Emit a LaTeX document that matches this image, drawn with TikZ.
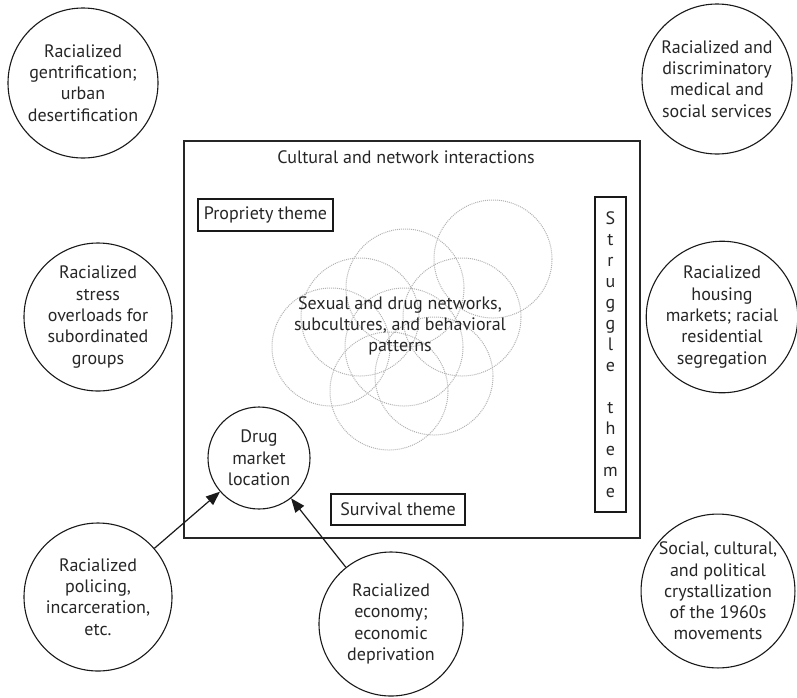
\documentclass[tikz,border=0pt]{standalone}
\usepackage{fontspec}
\setmainfont{PT Sans}
\usetikzlibrary{arrows.meta}
\begin{document}
\begin{tikzpicture}[x=1pt,y=-1pt,
  txt/.style={text=black!85,font=\fontsize{18}{21.3}\selectfont,align=center},
  outer/.style={txt,circle,draw=black!90,line width=1.1pt,inner sep=0pt},
  theme/.style={txt,draw=black!90,line width=1.1pt,inner sep=0pt},
  netc/.style={draw=black!30,line width=1pt,densely dotted},
  arr/.style={draw=black!90,line width=1.2pt,-{Triangle[length=14pt,width=11pt]}}]
\useasboundingbox (0,0) rectangle (797,697);
% main box
\node[draw=black!85,line width=1.4pt,minimum width=456pt,minimum height=397pt,inner sep=0pt] (main) at (412,339.5) {};
\node[txt] (title) at (406,157) {Cultural and network interactions};
% dotted network circles
\foreach \p in {(493,259),(405,288),(360,317),(462,317),(331,347),(404,347),(389,391),(434,376)}
  \draw[netc] \p circle (59);
\node[txt] (net) at (400,326) {Sexual and drug networks,\\subcultures, and behavioral\\patterns};
% theme boxes
\node[theme,minimum width=135pt,minimum height=32pt] (prop) at (265.5,215) {Propriety theme};
\node[theme,minimum width=134pt,minimum height=31pt] (surv) at (398,509.5) {Survival theme};
\node[theme,minimum width=31pt,minimum height=315pt,font=\fontsize{18}{21}\selectfont] (strug) at (610.5,354.5) {S\\t\\r\\u\\g\\g\\l\\e\\\mbox{}\\t\\h\\e\\m\\e};
% outer circles
\node[outer,minimum size=150pt] (gent) at (83,83) {Racialized\\gentrification;\\urban\\desertification};
\node[outer,minimum size=150pt] (med) at (717,79) {Racialized and\\discriminatory\\medical and\\social services};
\node[outer,minimum size=148pt] (stress) at (98,317) {Racialized\\stress\\overloads for\\subordinated\\groups};
\node[outer,minimum size=148pt] (house) at (722,317) {Racialized\\housing\\markets; racial\\residential\\segregation};
\node[outer,minimum size=148pt] (police) at (98,597) {Racialized\\policing,\\incarceration,\\etc.};
\node[outer,minimum size=144pt] (econ) at (391,624) {Racialized\\economy;\\economic\\deprivation};
\node[outer,minimum size=150pt] (sixties) at (718,591) {Social, cultural,\\and political\\crystallization\\of the 1960s\\movements};
\node[outer,minimum size=102pt] (drug) at (259,458) {Drug\\market\\location};
% arrows
\draw[arr] (police) -- (drug);
\draw[arr] (econ) -- (drug);
\end{tikzpicture}
\end{document}
